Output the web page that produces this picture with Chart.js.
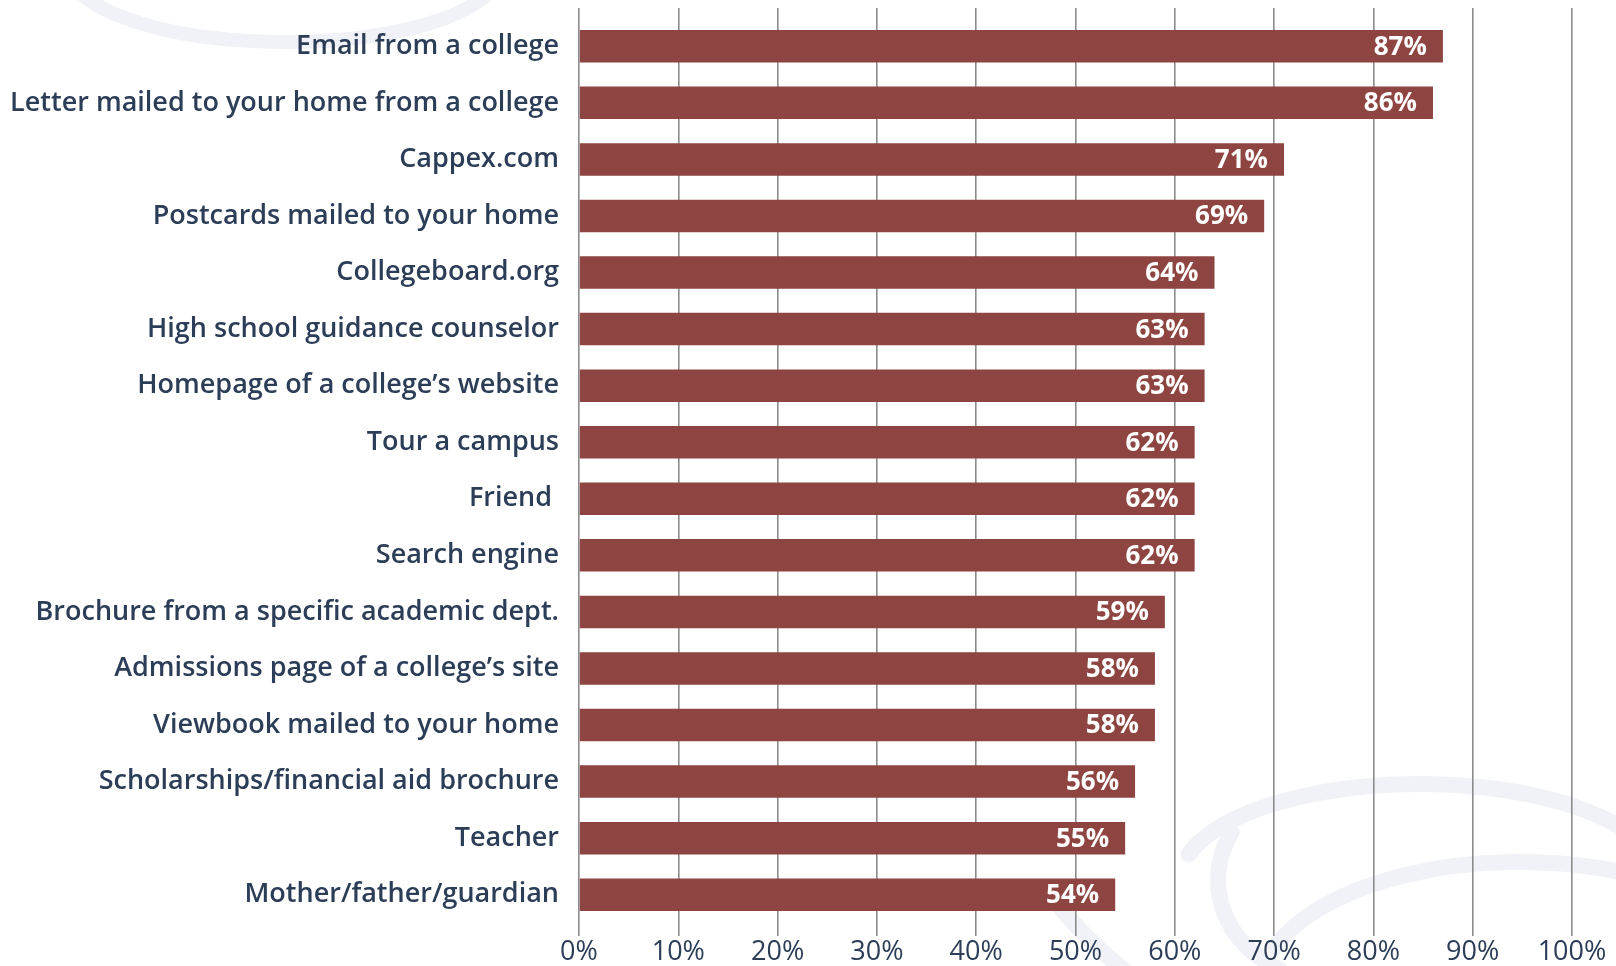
<!DOCTYPE html>
<html>
<head>
<meta charset="utf-8">
<script src="https://cdn.jsdelivr.net/npm/chart.js@4.4.1/dist/chart.umd.min.js"></script>
<style>
  html, body { margin: 0; padding: 0; background: #ffffff; }
  #wrap { width: 1616px; height: 966px; position: relative; }
</style>
</head>
<body>
<div id="wrap"><canvas id="sources"></canvas></div>
<script>
const sources = [
  "Email from a college",
  "Letter mailed to your home from a college",
  "Cappex.com",
  "Postcards mailed to your home",
  "Collegeboard.org",
  "High school guidance counselor",
  "Homepage of a college\u2019s website",
  "Tour a campus",
  "Friend ",
  "Search engine",
  "Brochure from a specific academic dept.",
  "Admissions page of a college\u2019s site",
  "Viewbook mailed to your home",
  "Scholarships/financial aid brochure",
  "Teacher",
  "Mother/father/guardian",
];
const shares = [87, 86, 71, 69, 64, 63, 63, 62, 62, 62, 59, 58, 58, 56, 55, 54];
const axisTicks = [0, 10, 20, 30, 40, 50, 60, 70, 80, 90, 100];

const FONT = "'Open Sans', 'DejaVu Sans', sans-serif";
const NAVY = "#2b3d57";
const BAR = "#8e4541";
const GRID = "#8b8b8b";

// faint swoosh artwork behind the chart
const backdrop = {
  id: "backdrop",
  beforeDraw(chart) {
    const c = chart.ctx;
    c.save();
    c.fillStyle = "#ffffff";
    c.fillRect(0, 0, chart.width, chart.height);
    c.strokeStyle = "#f0f2f7";
    c.lineCap = "round";
    c.lineWidth = 14;
    c.beginPath();
    c.ellipse(285, -30, 215, 72, 0, 0.02 * Math.PI, 0.98 * Math.PI);
    c.stroke();
    c.lineWidth = 16;
    c.beginPath();
    c.ellipse(1420, 880, 240, 96, 0, Math.PI + 0.27, 2 * Math.PI - 0.3);
    c.stroke();
    c.beginPath();
    c.ellipse(1330, 880, 112, 100, 0, Math.PI - 1.1, Math.PI + 0.5);
    c.stroke();
    c.beginPath();
    c.ellipse(1520, 990, 260, 128, 0, Math.PI + 0.34, 2 * Math.PI - 0.5);
    c.stroke();
    c.beginPath();
    c.moveTo(1051, 896);
    c.quadraticCurveTo(1085, 940, 1130, 975);
    c.stroke();
    c.restore();
  },
};

// percentage text inside the right end of each bar
const barValues = {
  id: "barValues",
  afterDatasetsDraw(chart) {
    const c = chart.ctx;
    const meta = chart.getDatasetMeta(0);
    c.save();
    c.fillStyle = "#ffffff";
    c.font = "700 26px " + FONT;
    c.textAlign = "right";
    c.textBaseline = "middle";
    meta.data.forEach((bar, i) => {
      c.fillText(shares[i] + "%", bar.x - 16, bar.y + 1);
    });
    c.restore();
  },
};

new Chart(document.getElementById("sources"), {
  type: "bar",
  data: {
    labels: sources,
    datasets: [
      {
        data: shares,
        backgroundColor: BAR,
        borderWidth: 0,
        barPercentage: 0.575,
        categoryPercentage: 1,
      },
    ],
  },
  options: {
    indexAxis: "y",
    responsive: true,
    maintainAspectRatio: false,
    animation: false,
    layout: { padding: { top: 8, right: 44, bottom: 0, left: 0 } },
    plugins: {
      legend: { display: false },
      tooltip: { enabled: false },
    },
    scales: {
      x: {
        position: "bottom",
        min: 0,
        max: 100,
        afterBuildTicks: (scale) => {
          scale.ticks = axisTicks.map((v) => ({ value: v }));
        },
        afterFit: (scale) => {
          scale.height = 43;
          scale.paddingLeft = 0;
          scale.paddingRight = 0;
        },
        grid: {
          color: GRID,
          lineWidth: 1.6,
          tickLength: 13,
          drawTicks: true,
        },
        border: { display: false },
        ticks: {
          padding: 0,
          color: NAVY,
          font: { family: FONT, size: 27, weight: "500" },
          callback: (v) => v + "%",
        },
      },
      xTop: {
        position: "top",
        axis: "x",
        min: 0,
        max: 100,
        afterBuildTicks: (scale) => {
          scale.ticks = axisTicks.map((v) => ({ value: v }));
        },
        afterFit: (scale) => {
          scale.height = 10;
        },
        grid: {
          color: GRID,
          lineWidth: 1.6,
          tickLength: 10,
          drawOnChartArea: false,
        },
        border: { display: false },
        ticks: { display: false },
      },
      y: {
        afterFit: (scale) => {
          scale.width = 579;
          scale.paddingTop = 0;
          scale.paddingBottom = 0;
        },
        grid: { display: false, drawTicks: false },
        border: { display: false },
        ticks: {
          padding: 20,
          color: NAVY,
          font: { family: FONT, size: 27, weight: "600" },
        },
      },
    },
  },
  plugins: [backdrop, barValues],
});
</script>
</body>
</html>
